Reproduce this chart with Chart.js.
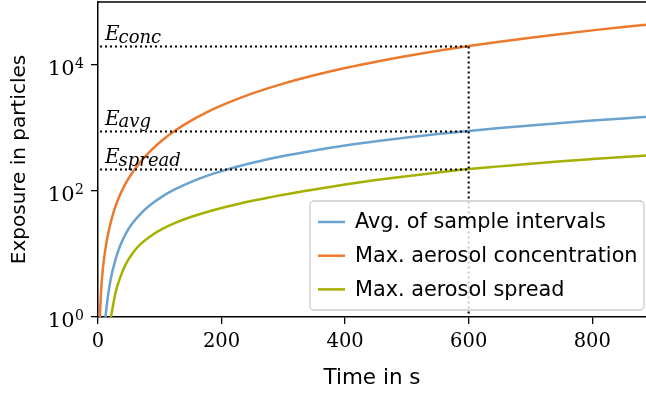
<!DOCTYPE html>
<html>
<head>
<meta charset="utf-8">
<script src="https://cdn.jsdelivr.net/npm/chart.js@4.4.1/dist/chart.umd.min.js"></script>
<style>
  html, body { margin: 0; padding: 0; background: #fff; }
  #wrap { width: 646px; height: 394px; }
</style>
</head>
<body>
<div id="wrap"><canvas id="exposureChart" width="646" height="394"></canvas></div>
<script>
// time grid (s) and exposure values
const timeS = [3, 5, 8, 12, 16, 21, 28, 35, 45, 56, 70, 85, 105, 125, 150, 175, 200, 250, 300, 350, 400, 450, 500, 550, 600, 650, 700, 750, 800, 850, 900];
const avgIntervals = [null, null, null, 1.0, 2.1, 4.2, 7.9, 12.9, 21.1, 31, 44.7, 60.4, 82.9, 106.8, 138.4, 172, 206.7, 280, 358.5, 441, 527, 615, 707, 801, 898, 998, 1100, 1204, 1310, 1418, 1528];
const maxConcentration = [1.0, 2.6, 6.0, 12, 20, 33, 56, 84, 133, 198, 300, 434, 651, 912, 1300, 1757, 2280, 3540, 5070, 6870, 8950, 11300, 13930, 16830, 20000, 23450, 27170, 31160, 35440, 39980, 44800];
const maxSpread = [null, null, null, null, null, 1.0, 2.34, 4.0, 6.9, 10.3, 14.7, 19.2, 25.2, 31.2, 38.6, 46.1, 53.8, 69.8, 87.2, 106, 127, 149, 172, 197, 223, 246, 271, 296, 321, 347, 372];

const seriesLabels = ['Avg. of sample intervals', 'Max. aerosol concentration', 'Max. aerosol spread'];
const seriesColors = ['#6aa3cf', '#eb7a2d', '#a6b000'];

const xTicks = [0, 200, 400, 600, 800];
const yTicks = [1, 100, 10000];

// reference time and the exposure names marked with dotted lines
const refTime = 600;
const refNames = ['conc', 'avg', 'spread'];
const refSeries = [maxConcentration, avgIntervals, maxSpread];

const SERIF = '"DejaVu Serif", serif';
const SANS = '"DejaVu Sans", sans-serif';

function toPoints(values) {
    return timeS.map((t, i) => ({ x: t, y: values[i] }));
}

// dotted marker lines, top spine, y tick labels with exponents, legend
const extras = {
    id: 'extras',
    afterDatasetsDraw(chart) {
        const { ctx, chartArea, scales } = chart;
        const x = scales.x, y = scales.y;
        const xr = x.getPixelForValue(refTime);
        const idx = timeS.indexOf(refTime);
        ctx.save();
        ctx.strokeStyle = '#000';
        ctx.lineWidth = 2.1;
        ctx.setLineDash([2, 3]);
        let topRef = chartArea.bottom;
        refSeries.forEach(s => {
            const yp = Math.round(y.getPixelForValue(s[idx])) + 0.5;
            topRef = Math.min(topRef, yp);
            ctx.beginPath();
            ctx.moveTo(chartArea.left + 2, yp);
            ctx.lineTo(xr, yp);
            ctx.stroke();
        });
        ctx.beginPath();
        ctx.moveTo(xr, topRef);
        ctx.lineTo(xr, chartArea.bottom);
        ctx.stroke();
        ctx.setLineDash([]);

        // labels E_name
        ctx.fillStyle = '#000';
        ctx.textAlign = 'left';
        ctx.textBaseline = 'alphabetic';
        refSeries.forEach((s, k) => {
            const yp = y.getPixelForValue(s[idx]);
            const lx = chartArea.left + 7;
            ctx.font = 'italic 20px ' + SERIF;
            ctx.fillText('E', lx, yp - 6);
            const w = ctx.measureText('E').width;
            ctx.font = 'italic 18px ' + SERIF;
            ctx.fillText(refNames[k], lx + w - 1, yp - 3.5);
        });
        ctx.restore();
    },
    afterDraw(chart) {
        const { ctx, chartArea, scales } = chart;
        ctx.save();
        // top spine
        ctx.strokeStyle = '#000';
        ctx.lineWidth = 1.5;
        ctx.beginPath();
        ctx.moveTo(chartArea.left, chartArea.top);
        ctx.lineTo(chartArea.right, chartArea.top);
        ctx.stroke();

        // y tick labels 10^n
        ctx.fillStyle = '#000';
        ctx.textBaseline = 'alphabetic';
        scales.y.ticks.forEach(tk => {
            const yp = scales.y.getPixelForValue(tk.value);
            const ex = String(Math.round(Math.log10(tk.value)));
            ctx.font = '14px ' + SERIF;
            const ew = ctx.measureText(ex).width;
            const right = chartArea.left - 14;
            ctx.textAlign = 'left';
            ctx.fillText(ex, right - ew, yp + 2.5);
            ctx.font = '21px ' + SERIF;
            ctx.textAlign = 'right';
            ctx.fillText('10', right - ew - 0.5, yp + 9.5);
        });

        // legend box
        const bx = 310, by = 201, bw = 334, bh = 109;
        ctx.beginPath();
        ctx.roundRect(bx, by, bw, bh, 4);
        ctx.fillStyle = 'rgba(255,255,255,0.8)';
        ctx.fill();
        ctx.strokeStyle = '#cccccc';
        ctx.lineWidth = 1.3;
        ctx.stroke();
        ctx.font = '20.8px ' + SANS;
        ctx.textAlign = 'left';
        ctx.textBaseline = 'middle';
        chart.data.datasets.forEach((ds, i) => {
            const ry = by + 21 + i * 33.7;
            ctx.strokeStyle = ds.borderColor;
            ctx.lineWidth = 2.5;
            ctx.beginPath();
            ctx.moveTo(bx + 8, ry);
            ctx.lineTo(bx + 35, ry);
            ctx.stroke();
            ctx.fillStyle = '#000';
            ctx.fillText(ds.label, bx + 45, ry + 1);
        });
        ctx.restore();
    }
};

const ctx = document.getElementById('exposureChart').getContext('2d');

const exposureChart = new Chart(ctx, {
    type: 'line',
    data: {
        datasets: [
            { label: seriesLabels[0], data: toPoints(avgIntervals), borderColor: seriesColors[0] },
            { label: seriesLabels[1], data: toPoints(maxConcentration), borderColor: seriesColors[1] },
            { label: seriesLabels[2], data: toPoints(maxSpread), borderColor: seriesColors[2] }
        ]
    },
    options: {
        responsive: false,
        animation: false,
        devicePixelRatio: 1,
        layout: { padding: { top: 2, right: 0, left: 0, bottom: 0 } },
        elements: {
            point: { radius: 0 },
            line: { borderWidth: 2.5, cubicInterpolationMode: 'monotone', fill: false }
        },
        plugins: {
            legend: { display: false },
            tooltip: { enabled: false }
        },
        scales: {
            x: {
                type: 'linear',
                min: 0,
                max: 887,
                afterBuildTicks: s => { s.ticks = xTicks.map(v => ({ value: v })); },
                afterFit: s => { s.height = 77; },
                grid: { drawOnChartArea: false, color: '#000', lineWidth: 1.3, tickLength: 7 },
                border: { color: '#000', width: 1.5 },
                ticks: { color: '#000', font: { family: SERIF, size: 19.5 }, padding: 6, maxRotation: 0 },
                title: { display: true, text: 'Time in s', color: '#000', font: { family: SANS, size: 21.5 }, padding: { top: 0, bottom: 3 } }
            },
            y: {
                type: 'logarithmic',
                min: 1,
                max: 100000,
                afterBuildTicks: s => { s.ticks = yTicks.map(v => ({ value: v })); },
                afterFit: s => { s.width = 98; },
                grid: { drawOnChartArea: false, color: '#000', lineWidth: 1.3, tickLength: 7 },
                border: { color: '#000', width: 1.5 },
                ticks: { display: false },
                title: { display: true, text: 'Exposure in particles', color: '#000', font: { family: SANS, size: 20 }, padding: { top: 8, bottom: 0 } }
            }
        }
    },
    plugins: [extras]
});
</script>
</body>
</html>
